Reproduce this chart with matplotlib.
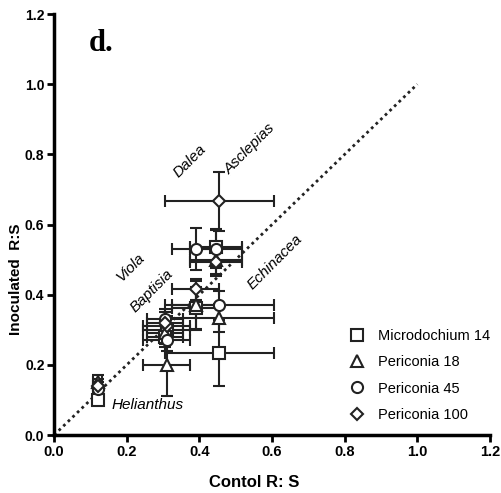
import matplotlib.pyplot as plt
import numpy as np

plt.rcParams['font.family'] = ['Liberation Sans', 'DejaVu Sans']

# species order: Helianthus, Viola, Baptisia, Dalea, Echinacea, Asclepias
species = ['Helianthus', 'Viola', 'Baptisia', 'Dalea', 'Echinacea', 'Asclepias']
control_x = [0.12, 0.31, 0.305, 0.39, 0.446, 0.455]
control_err = [0.012, 0.065, 0.05, 0.065, 0.072, 0.15]

treatments = ['Microdochium 14', 'Periconia 18', 'Periconia 45', 'Periconia 100']
markers = ['s', '^', 'o', 'D']

micro_y = [0.10, 0.30, 0.28, 0.363, 0.535, 0.234]
micro_err = [0.015, 0.03, 0.03, 0.06, 0.05, 0.095]
per18_y = [0.15, 0.20, 0.29, 0.37, 0.50, 0.334]
per18_err = [0.02, 0.09, 0.03, 0.07, 0.04, 0.04]
per45_y = [0.13, 0.27, 0.33, 0.53, 0.531, 0.371]
per45_err = [0.02, 0.03, 0.03, 0.06, 0.055, 0.04]
per100_y = [0.14, 0.31, 0.32, 0.415, 0.494, 0.666]
per100_err = [0.02, 0.03, 0.03, 0.03, 0.04, 0.085]

series_y = [micro_y, per18_y, per45_y, per100_y]
series_err = [micro_err, per18_err, per45_err, per100_err]

fig = plt.figure(figsize=(5.01, 4.93), dpi=100)
ax = fig.add_axes([0.108, 0.1176, 0.870, 0.854])

# 1:1 line
ax.plot([0, 1], [0, 1], linestyle=(0, (1, 1.3)), color='#222222', lw=2, zorder=1)

for m, lab, ys, es in zip(markers, treatments, series_y, series_err):
    ms = 6 if m == 'D' else 8
    ax.errorbar(control_x, ys, xerr=control_err, yerr=es, fmt=m, ms=ms,
                mfc='white', mec='#222222', mew=1.5, ecolor='#222222',
                elinewidth=1.5, capsize=4, capthick=1.5, label=lab, zorder=3)

# species names
ax.text(0.158, 0.086, 'Helianthus', style='italic', fontsize=11, va='center')
for name, x, y in [('Viola', 0.21, 0.477), ('Baptisia', 0.27, 0.41),
                   ('Dalea', 0.374, 0.78), ('Asclepias', 0.54, 0.814),
                   ('Echinacea', 0.608, 0.494)]:
    ax.text(x, y, name, style='italic', fontsize=11, rotation=45,
            ha='center', va='center')

ax.text(0.095, 1.115, 'd.', fontsize=22, fontweight='bold',
        family=['Liberation Serif'], va='center')

ax.set_xlim(0, 1.2)
ax.set_ylim(0, 1.2)
ticks = np.arange(0, 1.21, 0.2)
ax.set_xticks(ticks)
ax.set_yticks(ticks)
ax.set_xticklabels([f'{t:.1f}' for t in ticks], fontweight='bold', fontsize=10.5)
ax.set_yticklabels([f'{t:.1f}' for t in ticks], fontweight='bold', fontsize=10)
ax.tick_params(direction='out', length=5, width=2, pad=2)
for s in ['top', 'right']:
    ax.spines[s].set_visible(False)
for s in ['left', 'bottom']:
    ax.spines[s].set_linewidth(2.5)

ax.set_xlabel('Contol R: S', fontweight='bold', fontsize=12)
ax.set_ylabel('Inoculated  R:S', fontweight='bold', fontsize=11)
ax.xaxis.set_label_coords(0.46, -0.095)
ax.yaxis.set_label_coords(-0.072, 0.37)

handles = [plt.Line2D([], [], marker=m, ls='none', mfc='white', mec='#222222',
                      mew=1.5, ms=(6 if m == 'D' else 8)) for m in markers]
ax.legend(handles, treatments, loc='lower right', bbox_to_anchor=(1.03, 0.0),
          frameon=False, fontsize=10.5, handletextpad=0.4, labelspacing=0.85)

fig.savefig('out.png', dpi=100)
